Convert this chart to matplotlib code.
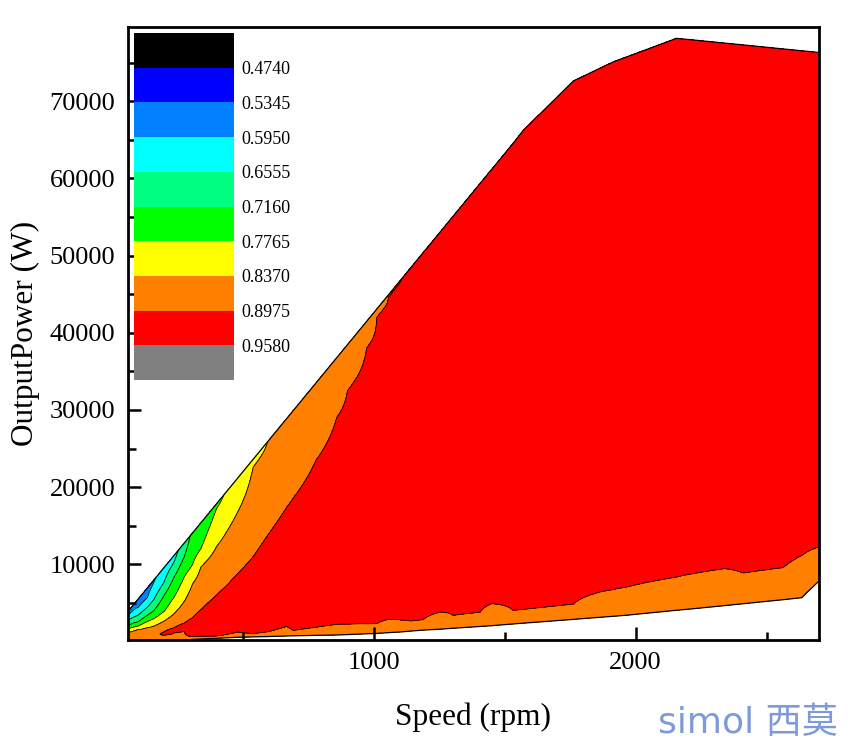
import numpy as np
import matplotlib
matplotlib.use('Agg')
import matplotlib.pyplot as plt
from matplotlib.ticker import MultipleLocator

plt.rcParams['font.family'] = 'Liberation Serif'

# speed columns where the map was read (rpm)
speed = [62, 100, 136, 160, 200, 238, 277, 309, 340, 400, 440, 478, 540, 600,
         668, 693, 780, 859, 900, 973, 1012, 1056, 1107, 1139, 1189, 1253, 1304,
         1406, 1450, 1533, 1571, 1650, 1762, 1864, 1915, 1966, 2156, 2220, 2341,
         2411, 2563, 2634, 2653, 2700]
# upper edge of the map (max output power, W)
p_max = [3900, 5467, 6952, 7941, 9591, 11158, 12767, 14086, 15365, 17839, 19489,
         21056, 23613, 26087, 28891, 29922, 33510, 36768, 38459, 41470, 43078,
         44893, 46996, 48316, 50378, 53017, 55120, 59326, 61141, 64564, 66200,
         68850, 72600, 74260, 75090, 75730, 78130, 77920, 77510, 77280, 76760,
         76520, 76460, 76300]
# lower edge of the map (min output power, W)
p_min = [0, 0, 0, 0, 0, 100, 180, 270, 330, 420, 480, 550, 600, 650, 720, 740,
         800, 850, 900, 1000, 1050, 1150, 1250, 1350, 1480, 1600, 1720, 1950, 2050,
         2280, 2380, 2580, 2870, 3140, 3270, 3410, 4050, 4250, 4660, 4900, 5420,
         5680, 6330, 7830]
# 0.8975 contour, bottom side of the red zone (W); nan = no red in that column
b_lo = [np.nan, np.nan, np.nan, np.nan, 800, 1150, 1300, 660, 690, 720, 950,
        1230, 1030, 1300, 1960, 1440, 1850, 2220, 2250, 2290, 2310, 2870, 2750,
        2650, 2830, 3810, 3390, 3810, 4900, 4030, 4150, 4450, 4850, 6410, 6730,
        7050, 8350, 8790, 9440, 8870, 9570, 11150, 11590, 12240]
# contours in the low-speed / high-torque corner (W), first columns only;
# nan = the contour lies above the upper edge
b_8975 = [np.nan, np.nan, np.nan, np.nan, 1250, 1800, 2400, 3100, 4100, 6000, 7300,
          8700, 11000, 14000, 17400, 18600, 23500, 29000, 32500, 38000, 42000, 44600]
b_8370 = [1220, 1550, 1800, 1980, 2650, 3600, 5200, 7500, 9640, 12300, 14300,
          16600, 22600]
b_7765 = [1660, 2000, 2600, 2950, 3900, 5760, 8400, 10000, 12000, 17200]
b_7160 = [2090, 2550, 3400, 3990, 6000, 8350, 11000]
b_6555 = [2740, 3400, 4450, 5400, 7700, 10300]
b_5950 = [3400, 4400, 5700, 7600]
b_5345 = [3650]

levels = [0.4135, 0.4740, 0.5345, 0.5950, 0.6555, 0.7160, 0.7765, 0.8370,
          0.8975, 0.9580, 1.0185]
colors = ['#000000', '#0000ff', '#0080ff', '#00ffff', '#00ff80', '#00ff00',
          '#ffff00', '#ff8000', '#ff0000', '#808080']

n = len(speed)
upper = [b_8975, b_8370, b_7765, b_7160, b_6555, b_5950, b_5345]
upper_lev = [0.8975, 0.8370, 0.7765, 0.7160, 0.6555, 0.5950, 0.5345]

# grid that follows the map edges: each column runs from p_min to p_max
frac = np.linspace(0, 1, 1201)
X = np.tile(np.array(speed, float), (len(frac), 1))
Y = np.array(p_min, float) + np.outer(frac, np.array(p_max, float) - np.array(p_min, float))
Z = np.zeros_like(Y)
for j in range(n):
    pp, zz = [-2000.0], [0.88]
    if not np.isnan(b_lo[j]):
        top = b_8975[j] if j < len(b_8975) and not np.isnan(b_8975[j]) else p_max[j] + 300
        pp += [b_lo[j], 0.5 * (b_lo[j] + top)]
        zz += [0.8975, 0.93]
    for k, (arr, lev) in enumerate(zip(upper, upper_lev)):
        if k == 0 and np.isnan(b_lo[j]):
            continue
        v = arr[j] if j < len(arr) else np.nan
        if np.isnan(v):
            v = p_max[j] + 300 * (k + 1)
        pp.append(v)
        zz.append(lev)
    pp.append(p_max[j] + 1e5)
    zz.append(0.44)
    Z[:, j] = np.interp(Y[:, j], pp, zz)

fig = plt.figure(figsize=(8.51, 7.44), dpi=100)
ax = fig.add_axes([0.1504, 0.1398, 0.8120, 0.8239])

cf = ax.contourf(X, Y, Z, levels=levels, colors=colors)
ax.contour(X, Y, Z, levels=levels[1:-1], colors='k', linewidths=0.6)
ax.plot(speed, p_max, color='k', lw=0.9)
ax.plot(speed, p_min, color='k', lw=0.9)

ax.set_xlim(62, 2700)
ax.set_ylim(200, 79600)
ax.xaxis.set_major_locator(MultipleLocator(1000))
ax.xaxis.set_minor_locator(MultipleLocator(500))
ax.yaxis.set_major_locator(MultipleLocator(10000))
ax.yaxis.set_minor_locator(MultipleLocator(5000))
ax.tick_params(which='both', direction='in', top=False, right=False, width=1.8,
               labelsize=19)
ax.tick_params(which='major', length=9.5, pad=9)
ax.tick_params(which='minor', length=5.5)
for s in ax.spines.values():
    s.set_linewidth(2)
ax.set_xlabel('Speed (rpm)', fontsize=22.5, labelpad=20)
ax.set_ylabel('OutputPower (W)', fontsize=22.5, labelpad=7)

# efficiency legend drawn as a colour bar inside the plot
cax = fig.add_axes([0.1575, 0.4892, 0.1175, 0.4664])
cb = fig.colorbar(cf, cax=cax, ticks=levels[1:-1])
cax.invert_yaxis()
cb.outline.set_visible(False)
cb.ax.set_yticklabels(['{:.4f}'.format(v) for v in levels[1:-1]])
cax.tick_params(length=0, labelsize=13, pad=5)

fig.text(0.985, 0.006, 'simol 西莫', ha='right', va='bottom', fontsize=26,
         color='#7c9bd8', family=['DejaVu Sans', 'Noto Sans CJK SC'])

fig.savefig('out.png', dpi=100)
